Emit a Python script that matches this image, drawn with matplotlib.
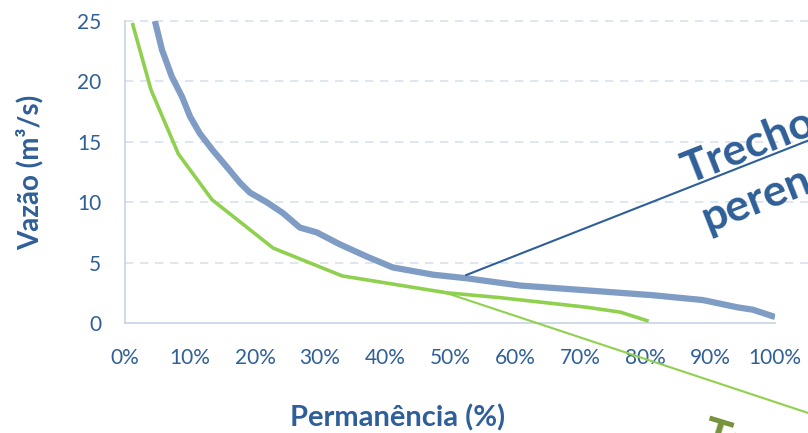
import matplotlib
matplotlib.use("Agg")
import matplotlib.pyplot as plt
from matplotlib.ticker import PercentFormatter

plt.rcParams['font.family'] = ['Lato', 'DejaVu Sans']

# curva de permanencia observada (%, m3/s)
perm_obs = [4.6, 5.7, 7.2, 8.8, 10.0, 11.5, 13.5, 15.7, 17.7, 19.2, 21.8, 24.3, 26.9,
            29.5, 33.1, 37.2, 41.2, 47.4, 52.6, 60.8, 71.1, 81.2, 88.9, 94.2, 96.6, 100.0]
vazao_obs = [25.0, 22.6, 20.4, 18.7, 17.1, 15.7, 14.3, 12.9, 11.6, 10.8, 10.0, 9.1, 7.9,
             7.5, 6.5, 5.5, 4.6, 4.0, 3.7, 3.1, 2.7, 2.3, 1.9, 1.3, 1.1, 0.5]

# curva regionalizada
perm_reg = [1.2, 4.0, 8.2, 13.4, 22.8, 33.4, 49.5, 57.7, 71.1, 76.2, 80.3]
vazao_reg = [24.7, 19.3, 14.0, 10.2, 6.2, 3.9, 2.5, 2.1, 1.3, 0.9, 0.2]

y_ticks = [0, 5, 10, 15, 20, 25]
x_ticks = [0, 10, 20, 30, 40, 50, 60, 70, 80, 90, 100]

txt_color = '#2F5F98'
grid_color = '#D9E1EC'

fig = plt.figure(figsize=(8.08, 4.33), dpi=100)
ax = fig.add_axes([125 / 808, 110 / 433, 650 / 808, 302 / 433])

for yv in y_ticks[1:]:
    ax.plot([0, 1.05], [yv, yv], transform=ax.get_yaxis_transform(), color=grid_color,
            lw=1.2, ls=(0, (5, 4)), clip_on=False, zorder=0)

ax.plot(perm_obs, vazao_obs, color='#7F9CC4', lw=4.5, solid_capstyle='butt', zorder=3)
ax.plot(perm_reg, vazao_reg, color='#8FD14F', lw=2.6, zorder=4)

# retas indicativas dos trechos
ax.plot([52.5, 105.1], [3.97, 15.1], color='#2F5F98', lw=1.5, clip_on=False, zorder=5)
ax.plot([48.5, 105.1], [2.65, -7.45], color='#8FD14F', lw=1.5, clip_on=False, zorder=5)

ax.set_xlim(0, 100)
ax.set_ylim(0, 25)
ax.set_xticks(x_ticks)
ax.set_yticks(y_ticks)
ax.xaxis.set_major_formatter(PercentFormatter(decimals=0))
ax.tick_params(length=0, labelsize=15, colors=txt_color)
ax.tick_params(axis='x', pad=18)
ax.tick_params(axis='y', pad=17)

for s in ['top', 'right']:
    ax.spines[s].set_visible(False)
for s in ['left', 'bottom']:
    ax.spines[s].set_color('#C8D3E3')
    ax.spines[s].set_linewidth(1.2)

ax.set_ylabel('Vazão (m³/s)', fontsize=20, fontweight='bold', color=txt_color, labelpad=24)
ax.set_xlabel('Permanência (%)', fontsize=21, fontweight='bold', color=txt_color)
ax.xaxis.set_label_coords(0.42, -0.27)

fig.text(688 / 808, 1 - 184 / 433, 'Trecho', rotation=21.5, rotation_mode='anchor',
         ha='left', va='baseline', fontsize=32, fontweight='bold', color=txt_color)
fig.text(708 / 808, 1 - 232 / 433, 'perene', rotation=21.5, rotation_mode='anchor',
         ha='left', va='baseline', fontsize=32, fontweight='bold', color=txt_color)
fig.text(700 / 808, 1 - 446 / 433, 'Trecho intermitente', rotation=-17, rotation_mode='anchor',
         ha='left', va='baseline', fontsize=32, fontweight='bold', color='#76923C')

fig.savefig('out.png', dpi=100)
